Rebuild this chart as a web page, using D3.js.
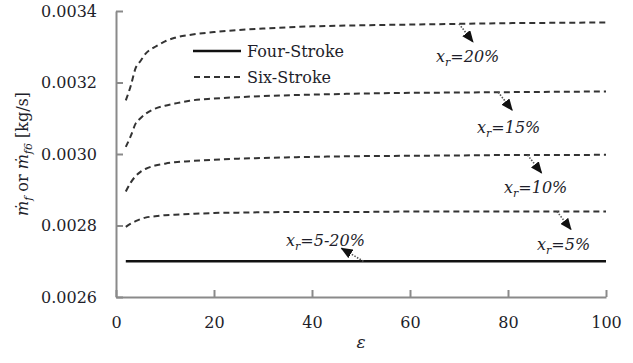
<!DOCTYPE html>
<html>
<head>
<meta charset="utf-8">
<script src="https://cdn.jsdelivr.net/npm/d3@7"></script>
<style>
  html, body { margin: 0; padding: 0; background: #fff; }
  svg { display: block; }
  text { font-family: "DejaVu Serif", "Liberation Serif", serif; fill: #1e1e2a; }
</style>
</head>
<body>
<svg id="chart" width="633" height="363"></svg>
<script>
// Compression ratio grid (ε) shared by all six-stroke curves
const epsilon = [2, 3, 4, 5, 6, 8, 10, 12, 15, 20, 25, 30, 40, 50, 60, 70, 80, 90, 100];

// Six-stroke fuel mass flow [kg/s] for each residual fraction x_r
const sixStroke20 = [0.00315, 0.00319, 0.00324, 0.00326, 0.00328, 0.00330, 0.003315, 0.003325, 0.003333, 0.003341, 0.003347, 0.003351, 0.003357, 0.00336, 0.003362, 0.003364, 0.003366, 0.003367, 0.003368];
const sixStroke15 = [0.00302, 0.00305, 0.003085, 0.0031, 0.003112, 0.003127, 0.003135, 0.003141, 0.003149, 0.003155, 0.003159, 0.003162, 0.003166, 0.003169, 0.003171, 0.003172, 0.003173, 0.003174, 0.003175];
const sixStroke10 = [0.002895, 0.00292, 0.002938, 0.00295, 0.002958, 0.002968, 0.002973, 0.002977, 0.00298, 0.002984, 0.002987, 0.002989, 0.002992, 0.002994, 0.002995, 0.002996, 0.002997, 0.002997, 0.002998];
const sixStroke5 = [0.002796, 0.002805, 0.002812, 0.002818, 0.002822, 0.002826, 0.002829, 0.00283, 0.002832, 0.002835, 0.002836, 0.002837, 0.002838, 0.002838, 0.002839, 0.002839, 0.002839, 0.002839, 0.002839];

// Four-stroke fuel mass flow (independent of x_r)
const fourStrokeEps = [2, 100];
const fourStroke = [0.0027, 0.0027];

// Axis ticks
const xTicks = [0, 20, 40, 60, 80, 100];
const yTicks = [0.0026, 0.0028, 0.0030, 0.0032, 0.0034];

// Curve annotations: label value, anchor point on curve (ε, value), text position
const annoLabels = ["20%", "15%", "10%", "5%"];
const annoEps = [70, 78, 84, 90];
const annoText = [[436, 62], [477, 133], [504, 193], [537, 250]];

const svg = d3.select("#chart");
const x = d3.scaleLinear().domain([0, 100]).range([116, 606]);
const y = d3.scaleLinear().domain([0.0026, 0.0034]).range([297, 11]);

// Axes
const axisColor = "#8a8a8a";
const gx = svg.append("g").attr("transform", `translate(0,${y(0.0026)})`)
  .call(d3.axisBottom(x).tickValues(xTicks).tickFormat(d3.format("d"))
    .tickSizeInner(-7).tickSizeOuter(0).tickPadding(20));
const gy = svg.append("g").attr("transform", `translate(${x(0)},0)`)
  .call(d3.axisLeft(y).tickValues(yTicks).tickFormat(d3.format(".4f"))
    .tickSizeInner(-7).tickSizeOuter(0).tickPadding(19));
[gx, gy].forEach(g => {
  g.select(".domain").attr("stroke", axisColor).attr("stroke-width", 2);
  g.selectAll(".tick line").attr("stroke", axisColor).attr("stroke-width", 2);
  g.selectAll(".tick text").attr("font-size", 16).attr("fill", "#1e1e2a")
    .style("font-family", "DejaVu Serif");
});

// Lines
const line = d3.line().x(d => x(d[0])).y(d => y(d[1])).curve(d3.curveMonotoneX);
const sixSeries = [sixStroke20, sixStroke15, sixStroke10, sixStroke5];
sixSeries.forEach(vals => {
  svg.append("path")
    .datum(epsilon.map((e, i) => [e, vals[i]]))
    .attr("fill", "none").attr("stroke", "#333").attr("stroke-width", 2)
    .attr("stroke-dasharray", "6,4")
    .attr("d", line);
});
svg.append("path")
  .datum(fourStrokeEps.map((e, i) => [e, fourStroke[i]]))
  .attr("fill", "none").attr("stroke", "#111").attr("stroke-width", 2.5)
  .attr("d", line);

// Arrow marker (filled triangle head)
svg.append("defs").append("marker")
  .attr("id", "head").attr("viewBox", "0 0 12 10").attr("refX", 11).attr("refY", 5)
  .attr("markerWidth", 12).attr("markerHeight", 10).attr("orient", "auto")
  .attr("markerUnits", "userSpaceOnUse")
  .append("path").attr("d", "M0,0 L12,5 L0,10 Z").attr("fill", "#111");

function arrow(x1, y1, x2, y2) {
  svg.append("line")
    .attr("x1", x1).attr("y1", y1).attr("x2", x2).attr("y2", y2)
    .attr("stroke", "#555").attr("stroke-width", 1.6).attr("stroke-dasharray", "1.5,1.5")
    .attr("marker-end", "url(#head)");
}

function interp(vals, e) {
  return d3.scaleLinear().domain(epsilon).range(vals)(e);
}

function xrLabel(tx, ty, suffix) {
  const t = svg.append("text").attr("x", tx).attr("y", ty)
    .attr("font-size", 16).attr("font-style", "italic");
  t.append("tspan").text("x");
  t.append("tspan").attr("font-size", 11).attr("dy", 4).text("r");
  t.append("tspan").attr("dy", -4).text("=" + suffix);
}

// Per-curve annotations
sixSeries.forEach((vals, i) => {
  const ax = x(annoEps[i]);
  const ay = y(interp(vals, annoEps[i]));
  arrow(ax, ay, ax + 14, ay + 18);
  xrLabel(annoText[i][0], annoText[i][1], annoLabels[i]);
});

// Four-stroke annotation
arrow(x(50.5), y(fourStroke[0]), x(46), y(fourStroke[0]) - 13);
xrLabel(286, 246, "5-20%");

// Legend
svg.append("line").attr("x1", 193).attr("x2", 241).attr("y1", 51).attr("y2", 51)
  .attr("stroke", "#111").attr("stroke-width", 2.5);
svg.append("text").attr("x", 247).attr("y", 57).attr("font-size", 16).text("Four-Stroke");
svg.append("line").attr("x1", 194).attr("x2", 241).attr("y1", 77).attr("y2", 77)
  .attr("stroke", "#333").attr("stroke-width", 2).attr("stroke-dasharray", "6,4");
svg.append("text").attr("x", 247).attr("y", 83).attr("font-size", 16).text("Six-Stroke");

// Axis titles
svg.append("text").attr("x", x(50)).attr("y", 348).attr("text-anchor", "middle")
  .attr("font-size", 17).attr("font-style", "italic").text("ε");

const yl = svg.append("text")
  .attr("transform", `translate(28,${(y(0.0026) + y(0.0034)) / 2}) rotate(-90)`)
  .attr("text-anchor", "middle").attr("font-size", 16);
yl.append("tspan").attr("font-style", "italic").text("ṁ");
yl.append("tspan").attr("font-style", "italic").attr("font-size", 11).attr("dy", 4).text("f");
yl.append("tspan").attr("dy", -4).text(" or ");
yl.append("tspan").attr("font-style", "italic").text("ṁ");
yl.append("tspan").attr("font-style", "italic").attr("font-size", 11).attr("dy", 4).text("f6");
yl.append("tspan").attr("dy", -4).text(" [kg/s]");
</script>
</body>
</html>
